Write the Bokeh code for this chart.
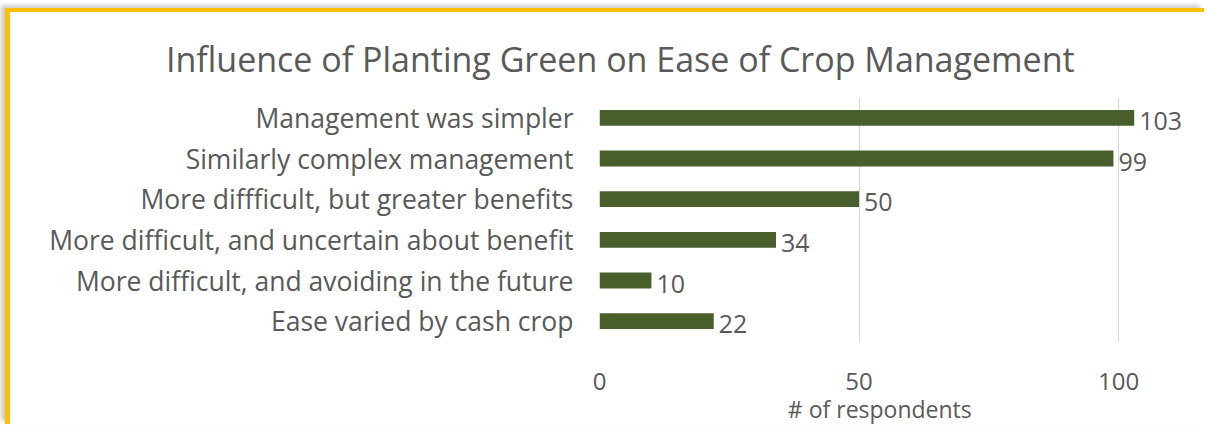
from bokeh.plotting import figure
from bokeh.models import FactorRange, Range1d, ColumnDataSource, LabelSet, LinearAxis, FixedTicker
from bokeh.core.properties import value
from bokeh.embed import file_html
from bokeh.resources import INLINE

title_text = "Influence of Planting Green on Ease of Crop Management"
categories = [
    "Management was simpler",
    "Similarly complex management",
    "More diffficult, but greater benefits",
    "More difficult, and uncertain about benefit",
    "More difficult, and avoiding in the future",
    "Ease varied by cash crop",
]
counts = [103, 99, 50, 34, 10, 22]
x_ticks = [0, 50, 100]
x_title = "# of respondents"

FONT = "Open Sans"
TEXT = "#595959"
BAR = "#485F2C"

src = ColumnDataSource(dict(cat=categories, n=counts, lbl=[str(v) for v in counts]))

p = figure(
    width=1199, height=416,
    y_range=FactorRange(factors=list(reversed(categories)), range_padding=0),
    x_range=Range1d(0, 115),
    output_backend="svg", toolbar_location=None, title=None,
    min_border_left=589, min_border_right=13, min_border_top=85, min_border_bottom=87,
)
p.styles = {"margin-left": "5px", "margin-top": "8px",
            "border-left": "5px solid #FFC000", "border-top": "4px solid #FFC000",
            "box-shadow": "-4px -3px 4px rgba(0,0,0,0.2)"}
p.outline_line_color = None
p.background_fill_color = "white"
p.border_fill_color = "white"

p.hbar(y="cat", right="n", left=0, height=0.39, source=src, color=BAR, line_color=None)

p.ygrid.grid_line_color = None
p.xgrid.grid_line_color = "#D9D9D9"
p.xgrid.grid_line_width = 1
p.xaxis.ticker = FixedTicker(ticks=x_ticks)


def plain(ax):
    ax.axis_line_color = None
    ax.major_tick_line_color = None
    ax.minor_tick_line_color = None
    ax.major_tick_out = 0
    ax.major_tick_in = 0
    ax.major_label_text_font = FONT
    ax.major_label_text_color = TEXT


plain(p.xaxis[0])
plain(p.yaxis[0])
p.xaxis.major_label_text_font_size = "24px"
p.xaxis.major_label_standoff = 31
p.yaxis.major_label_text_font_size = "26.5px"
p.yaxis.major_label_standoff = 26

# axis title, placed under the tick labels at its data position
title_x = 54
ax_t = LinearAxis(ticker=FixedTicker(ticks=[title_x]),
                  major_label_overrides={title_x: x_title})
plain(ax_t)
ax_t.major_label_text_font_size = "23px"
ax_t.major_label_standoff = 0
p.add_layout(ax_t, "below")

# chart title above the plot
head_x = 4
ax_h = LinearAxis(ticker=FixedTicker(ticks=[head_x]),
                  major_label_overrides={head_x: title_text})
plain(ax_h)
ax_h.major_label_text_font_size = "34px"
ax_h.major_label_standoff = 16
p.add_layout(ax_h, "above")

p.add_layout(LabelSet(x="n", y="cat", text="lbl", source=src, x_offset=5, y_offset=-3,
                      text_baseline="middle", text_font=value(FONT), text_font_size="25px",
                      text_color=TEXT))

open("out.html", "w").write(file_html(p, INLINE))
